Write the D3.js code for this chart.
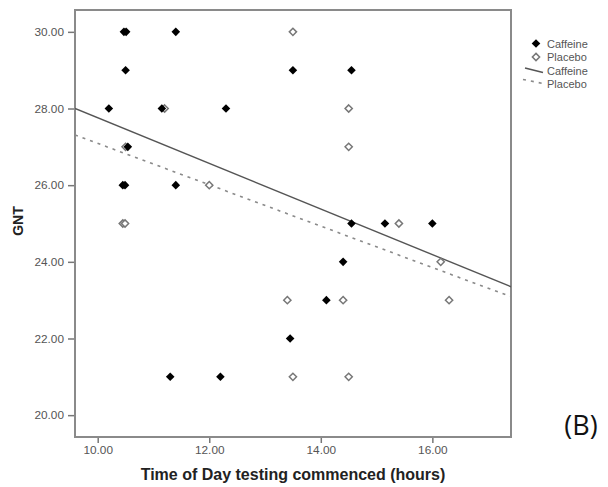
<!DOCTYPE html>
<html><head><meta charset="utf-8">
<script src="https://cdn.jsdelivr.net/npm/d3@7"></script>
<style>body{margin:0;background:#fff}svg{display:block}text{font-family:"Liberation Sans",Arial,sans-serif}</style>
</head><body><svg id="c" width="608" height="487"></svg>
<script>
// ---- data ----
const caffeineHours = [10.47,10.51,11.4,10.5,13.5,14.55,10.2,11.15,12.3,10.54,10.45,10.49,11.4,14.55,15.15,16.0,14.4,14.1,13.45,11.3,12.2];
const caffeineGNT   = [30,30,30,29,29,29,28,28,28,27,26,26,26,25,25,25,24,23,22,21,21];
const placeboHours  = [13.5,11.2,14.5,14.5,10.5,12.0,10.45,10.49,15.4,16.15,13.4,14.4,16.3,13.5,14.5];
const placeboGNT    = [30,28,28,27,27,26,25,25,25,24,23,23,23,21,21];
const fitHours      = [9.593,17.41];
const caffeineFit   = [28.0,23.35];
const placeboFit    = [27.31,23.09];
const xTicks = [10,12,14,16];
const yTicks = [20,22,24,26,28,30];
const xDomain = [9.593,17.41];
const yDomain = [19.43,30.57];
const legendLabels = ["Caffeine","Placebo","Caffeine","Placebo"];

const svg = d3.select("#c");
const L=75,R=511,T=10,B=437;
const x = d3.scaleLinear().domain(xDomain).range([L,R]);
const y = d3.scaleLinear().domain(yDomain).range([B,T]);
const fmt = d3.format(".2f");

// axes
const xa = svg.append("g").attr("transform",`translate(0,${B})`)
  .call(d3.axisBottom(x).tickValues(xTicks).tickFormat(fmt).tickSize(6).tickSizeOuter(0));
const ya = svg.append("g").attr("transform",`translate(${L},0)`)
  .call(d3.axisLeft(y).tickValues(yTicks).tickFormat(fmt).tickSize(7).tickSizeOuter(0));
[xa,ya].forEach(a=>{
  a.select(".domain").remove();
  a.selectAll("line").attr("stroke","#777").attr("stroke-width",1.5);
  a.selectAll("text").attr("fill","#555").style("font-size","11.8px");
});
ya.selectAll("text").attr("dx","-1px");

// frame
svg.append("rect").attr("x",L).attr("y",T).attr("width",R-L).attr("height",B-T)
  .attr("fill","none").attr("stroke","#8a8a8a").attr("stroke-width",2);

// fit lines
svg.append("clipPath").attr("id","pc").append("rect").attr("x",L).attr("y",T).attr("width",R-L).attr("height",B-T);
const line = d3.line().x(d=>x(d[0])).y(d=>y(d[1]));
svg.append("path").attr("clip-path","url(#pc)").attr("d",line(fitHours.map((h,i)=>[h,placeboFit[i]])))
  .attr("fill","none").attr("stroke","#8a8a8a").attr("stroke-width",1.6).attr("stroke-dasharray","3,5");
svg.append("path").attr("clip-path","url(#pc)").attr("d",line(fitHours.map((h,i)=>[h,caffeineFit[i]])))
  .attr("fill","none").attr("stroke","#555").attr("stroke-width",1.4);

// points
const dia = "M0,-4.3L4.3,0L0,4.3L-4.3,0Z";
const diaO = "M0,-3.6L3.6,0L0,3.6L-3.6,0Z";
svg.append("g").selectAll("path").data(placeboHours.map((h,i)=>[h,placeboGNT[i]])).join("path")
  .attr("d",diaO).attr("transform",d=>`translate(${x(d[0])},${y(d[1])})`)
  .attr("fill","#fff").attr("stroke","#777").attr("stroke-width",1.5);
svg.append("g").selectAll("path").data(caffeineHours.map((h,i)=>[h,caffeineGNT[i]])).join("path")
  .attr("d",dia).attr("transform",d=>`translate(${x(d[0])},${y(d[1])})`)
  .attr("fill","#000");

// legend
const lg = svg.append("g");
lg.append("path").attr("d",dia).attr("transform","translate(536,43.5)").attr("fill","#000");
lg.append("path").attr("d",diaO).attr("transform","translate(536,57)").attr("fill","#fff").attr("stroke","#777").attr("stroke-width",1.5);
lg.append("line").attr("x1",525).attr("y1",68).attr("x2",543).attr("y2",72.5).attr("stroke","#555").attr("stroke-width",1.4);
lg.append("line").attr("x1",523).attr("y1",79.5).attr("x2",543).attr("y2",83.5).attr("stroke","#8a8a8a").attr("stroke-width",1.6).attr("stroke-dasharray","3,5");
[44,57.5,71,84].forEach((yy,i)=>{
  lg.append("text").attr("x",547).attr("y",yy).attr("dy","0.35em").text(legendLabels[i])
    .attr("fill","#555").style("font-size","11px");
});

// titles
svg.append("text").attr("x",293).attr("y",480).attr("text-anchor","middle")
  .style("font-size","16px").style("font-weight","bold").attr("fill","#222")
  .text("Time of Day testing commenced (hours)");
svg.append("text").attr("transform","translate(23,221) rotate(-90)").attr("text-anchor","middle")
  .style("font-size","14px").style("font-weight","bold").attr("fill","#222").text("GNT");
svg.append("text").attr("x",581).attr("y",435).attr("text-anchor","middle")
  .style("font-size","27px").style("font-family","'Open Sans',sans-serif").attr("fill","#111").text("(B)");
</script></body></html>
